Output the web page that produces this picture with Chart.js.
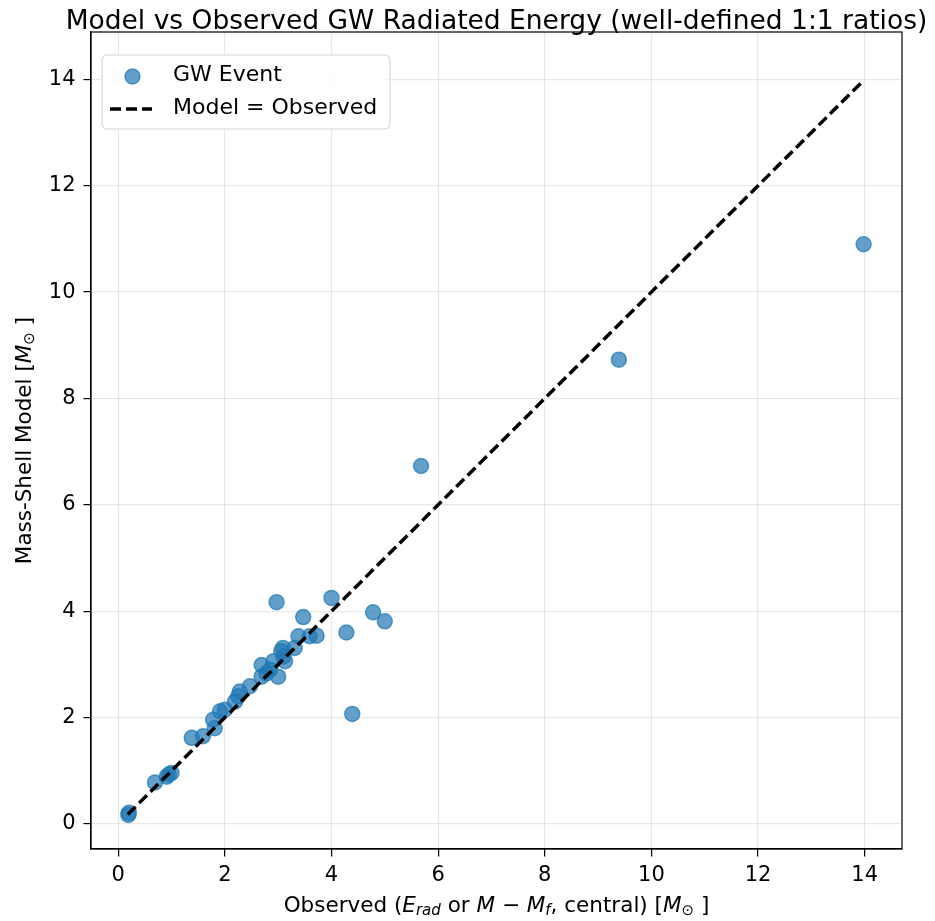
<!DOCTYPE html>
<html>
<head>
<meta charset="utf-8">
<script src="https://cdn.jsdelivr.net/npm/chart.js@4/dist/chart.umd.min.js"></script>
<style>
  body { margin: 0; background: #fff; }
  canvas { display: block; }
</style>
</head>
<body>
<canvas id="gwChart" width="935" height="921"></canvas>
<script>
// observed (E_rad or M - M_f) vs mass-shell model, solar masses
const observedVals = [0.19, 0.2, 0.69, 0.91, 0.95, 1.0, 1.38, 1.59, 1.81, 1.78, 1.91, 2.0, 2.19, 2.25, 2.28,
  2.47, 2.69, 2.69, 2.78, 2.91, 3.0, 2.97, 3.09, 3.13, 3.06, 3.31, 3.38, 3.47, 3.59, 3.72,
  4.0, 4.28, 4.78, 5.0, 4.39, 5.68, 9.39, 13.98, 2.85, 3.1];
const modelVals = [0.17, 0.21, 0.78, 0.89, 0.93, 0.96, 1.62, 1.65, 1.80, 1.96, 2.12, 2.15, 2.30, 2.40, 2.49,
  2.59, 2.99, 2.77, 2.83, 3.06, 2.77, 4.17, 3.31, 3.06, 3.25, 3.31, 3.53, 3.89, 3.53, 3.54,
  4.25, 3.60, 3.98, 3.81, 2.07, 6.73, 8.73, 10.90, 2.9, 3.15];
const refLine = [0.18, 13.98];
const tickVals = [0, 2, 4, 6, 8, 10, 12, 14];

const FONT = "'DejaVu Sans', sans-serif";

const eventPoints = observedVals.map((v, i) => ({ x: v, y: modelVals[i] }));
const linePoints = refLine.map(v => ({ x: v, y: v }));

function drawRich(ctx, parts, size) {
    // parts: {t, it, sub}; centred on 0,0
    let widths = parts.map(p => {
        ctx.font = (p.it ? 'italic ' : '') + (p.sub ? size * 0.7 : size) + 'px ' + FONT;
        return ctx.measureText(p.t).width;
    });
    let total = widths.reduce((a, b) => a + b, 0);
    let x = -total / 2;
    parts.forEach((p, i) => {
        ctx.font = (p.it ? 'italic ' : '') + (p.sub ? size * 0.7 : size) + 'px ' + FONT;
        ctx.fillText(p.t, x, p.sub ? size * 0.25 : 0);
        x += widths[i];
    });
}

const decorPlugin = {
    id: 'decor',
    afterDraw(chart) {
        const ctx = chart.ctx;
        const a = chart.chartArea;
        ctx.save();
        // frame
        ctx.strokeStyle = '#000';
        ctx.lineWidth = 1.2;
        ctx.strokeRect(a.left, a.top, a.right - a.left, a.bottom - a.top);

        // title
        ctx.fillStyle = '#000';
        ctx.textAlign = 'left';
        ctx.textBaseline = 'middle';
        ctx.font = '26.5px ' + FONT;
        const title = 'Model vs Observed GW Radiated Energy (well-defined 1:1 ratios)';
        const tw = ctx.measureText(title).width;
        ctx.fillText(title, (a.left + a.right) / 2 - tw / 2, 22);

        // x axis title
        ctx.save();
        ctx.translate((a.left + a.right) / 2, 906);
        drawRich(ctx, [
            { t: 'Observed (' }, { t: 'E', it: true }, { t: 'rad', it: true, sub: true },
            { t: ' or ' }, { t: 'M', it: true }, { t: ' − ' }, { t: 'M', it: true },
            { t: 'f', it: true, sub: true }, { t: ', central) [' }, { t: 'M', it: true },
            { t: '⊙', sub: true }, { t: ' ]' }
        ], 21.5);
        ctx.restore();

        // y axis title
        ctx.save();
        ctx.translate(25, (a.top + a.bottom) / 2);
        ctx.rotate(-Math.PI / 2);
        drawRich(ctx, [
            { t: 'Mass-Shell Model [' }, { t: 'M', it: true }, { t: '⊙', sub: true }, { t: ' ]' }
        ], 21.5);
        ctx.restore();

        // legend
        const lx = 102, ly = 55, lw = 288, lh = 74;
        ctx.beginPath();
        ctx.roundRect(lx, ly, lw, lh, 5);
        ctx.fillStyle = 'rgba(255,255,255,0.8)';
        ctx.fill();
        ctx.strokeStyle = '#d6d6d6';
        ctx.lineWidth = 1.2;
        ctx.stroke();

        ctx.beginPath();
        ctx.arc(132.5, 76.5, 7.5, 0, Math.PI * 2);
        ctx.fillStyle = 'rgba(31,119,180,0.7)';
        ctx.fill();
        ctx.strokeStyle = 'rgba(31,119,180,0.7)';
        ctx.lineWidth = 1.5;
        ctx.stroke();

        ctx.beginPath();
        ctx.setLineDash([11, 5]);
        ctx.moveTo(110, 109);
        ctx.lineTo(152, 109);
        ctx.strokeStyle = '#000';
        ctx.lineWidth = 3.5;
        ctx.stroke();
        ctx.setLineDash([]);

        ctx.fillStyle = '#000';
        ctx.font = '22px ' + FONT;
        ctx.textAlign = 'left';
        ctx.textBaseline = 'middle';
        ctx.fillText('GW Event', 173, 75);
        ctx.fillText('Model = Observed', 173, 108);
        ctx.restore();
    }
};

function setTicks(scale) {
    scale.ticks = tickVals.map(v => ({ value: v }));
}

new Chart(document.getElementById('gwChart'), {
    type: 'scatter',
    data: {
        datasets: [
            {
                label: 'GW Event',
                data: eventPoints,
                order: 1,
                pointRadius: 7.5,
                pointHoverRadius: 7.5,
                borderWidth: 1.5,
                backgroundColor: 'rgba(31,119,180,0.7)',
                borderColor: 'rgba(31,119,180,0.7)'
            },
            {
                label: 'Model = Observed',
                data: linePoints,
                order: 0,
                showLine: true,
                pointRadius: 0,
                borderColor: '#000',
                borderWidth: 3.5,
                borderDash: [11, 5]
            }
        ]
    },
    options: {
        responsive: false,
        animation: false,
        layout: { padding: { top: 32, right: 33, left: 0, bottom: 0 } },
        plugins: {
            legend: { display: false },
            title: { display: false },
            tooltip: { enabled: false }
        },
        scales: {
            x: {
                type: 'linear',
                min: -0.51,
                max: 14.70,
                afterBuildTicks: setTicks,
                afterFit(scale) { scale.height = 72; },
                grid: { color: 'rgba(0,0,0,0.09)', lineWidth: 1.2, tickColor: '#000', tickLength: 7.5 },
                border: { color: '#000', width: 1.2 },
                ticks: { color: '#000', font: { family: FONT, size: 21 }, padding: 6, maxRotation: 0 }
            },
            y: {
                type: 'linear',
                min: -0.47,
                max: 14.89,
                afterBuildTicks: setTicks,
                afterFit(scale) { scale.width = 91; },
                grid: { color: 'rgba(0,0,0,0.09)', lineWidth: 1.2, tickColor: '#000', tickLength: 7.5 },
                border: { color: '#000', width: 1.2 },
                ticks: { color: '#000', font: { family: FONT, size: 21 }, padding: 8 }
            }
        }
    },
    plugins: [decorPlugin]
});
</script>
</body>
</html>
